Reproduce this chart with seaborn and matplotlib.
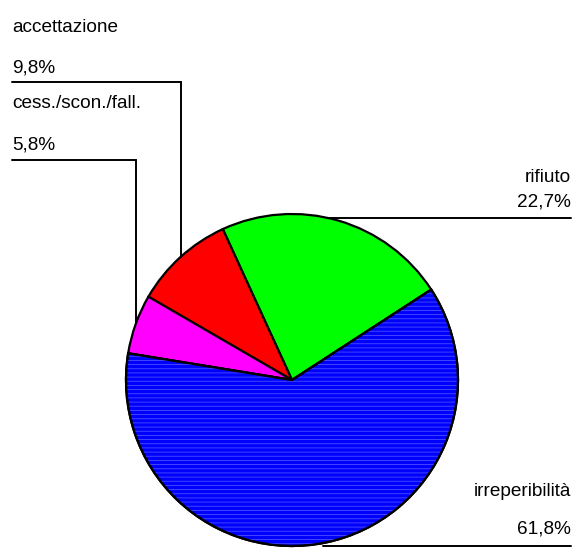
import numpy as np
import matplotlib
matplotlib.use("Agg")
import matplotlib.pyplot as plt
from matplotlib.patches import Wedge
import seaborn as sns

sns.set_style("white")
plt.rcParams["font.family"] = ["Liberation Sans", "DejaVu Sans"]
plt.rcParams["hatch.linewidth"] = 0.6

# Slice data, in drawing order (counter-clockwise from the start angle)
categories = ["rifiuto", "accettazione", "cess./scon./fall.", "irreperibilità"]
shares = [22.7, 9.8, 5.8, 61.8]
pct_labels = ["22,7%", "9,8%", "5,8%", "61,8%"]
colors = ["#00FF00", "#FF0000", "#FF00FF", "#0000FF"]

W, H = 575, 548
fig = plt.figure(figsize=(W / 100, H / 100), dpi=100)
ax = fig.add_axes([0, 0, 1, 1])

# Work in pixel-like units with y pointing down
cx, cy, r = 292, 380, 166
wedges, _ = ax.pie(
    shares, colors=colors, startangle=-33, counterclock=False,
    center=(cx, cy), radius=r,
    wedgeprops=dict(edgecolor="black", linewidth=1.6),
)

# Light horizontal streaks across the large blue slice, then its outline again
big = wedges[3]
ax.add_patch(Wedge(big.center, big.r, big.theta1, big.theta2, facecolor="none",
                   edgecolor="#4d4dff", linewidth=0, hatch="----", zorder=3))
ax.add_patch(Wedge(big.center, big.r, big.theta1, big.theta2, facecolor="none",
                   edgecolor="black", linewidth=1.6, zorder=4))

ax.set_xlim(0, W)
ax.set_ylim(H, 0)
ax.set_aspect("equal")
ax.axis("off")

fs = 13.7
txt = dict(fontsize=fs, color="black", va="center")
lw = 1.4


def edge_y(x, upper=True):
    dy = np.sqrt(max(r ** 2 - (x - cx) ** 2, 0))
    return cy - dy if upper else cy + dy


# Left labels with elbow leaders: (category index, name y, pct y, line y, drop x)
left = [(1, 27, 68, 82, 181), (2, 104, 145, 160, 136)]
for i, ny, py, ly, dx in left:
    ax.text(12, ny, categories[i], ha="left", **txt)
    ax.text(12, py, pct_labels[i], ha="left", **txt)
    ax.plot([12, dx, dx], [ly, ly, edge_y(dx)], color="black", lw=lw,
            solid_joinstyle="miter")

# Right labels with straight leaders
right = [(0, 177, 202, 218), (3, 492, 529, 546)]
for i, ny, py, ly in right:
    ax.text(571, ny, categories[i], ha="right", **txt)
    ax.text(571, py, pct_labels[i], ha="right", **txt)
    dy = abs(ly - cy)
    x0 = cx + np.sqrt(max(r ** 2 - dy ** 2, 0)) if dy < r else cx
    x0 = max(x0, cx + 31)
    ax.plot([x0, 571], [ly, ly], color="black", lw=lw)

fig.savefig("out.png", dpi=100)
